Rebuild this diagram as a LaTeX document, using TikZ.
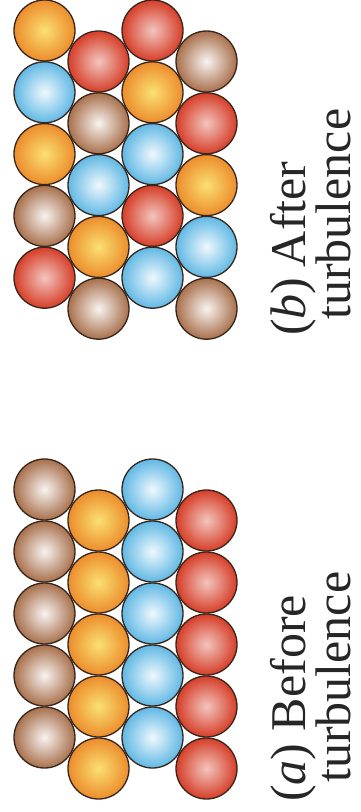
\documentclass[tikz,border=0pt]{standalone}
\usepackage{fontspec}
\setmainfont{Liberation Serif}
\usepackage{xcolor}
\usetikzlibrary{positioning}

\definecolor{ballline}{RGB}{55,38,28}
\definecolor{ballbrown}{RGB}{168,112,76}
\definecolor{ballorange}{RGB}{236,140,44}
\definecolor{ballblue}{RGB}{96,184,228}
\definecolor{ballred}{RGB}{214,62,40}

\tikzstyle{ball} = [circle, draw=ballline, line width=1.3pt, minimum size=61pt, inner sep=0pt]
\tikzstyle{brownfill} = [inner color=white!92!ballbrown, outer color=ballbrown]
\tikzstyle{orangefill} = [inner color=yellow!55!ballorange!60!white, outer color=ballorange]
\tikzstyle{bluefill} = [inner color=white!90!ballblue, outer color=ballblue]
\tikzstyle{redfill} = [inner color=white!70!ballred, outer color=ballred]

\begin{document}
\begin{tikzpicture}[x=1pt, y=1pt]
    \tikzstyle{caption} = [rotate=90, anchor=base west, inner sep=0pt, text depth=0pt, text=black!85, font=\fontsize{50}{50}\selectfont]

    \useasboundingbox (0,0) rectangle (361,-812);

    % (b) mixed layers, five balls per column
    \foreach \c/\x/\y/\cols in {1/44.5/-30.5/{orangefill,bluefill,orangefill,brownfill,redfill},
                                2/98.5/-61.5/{redfill,brownfill,bluefill,orangefill,brownfill},
                                3/152.5/-30.5/{redfill,orangefill,bluefill,redfill,bluefill},
                                4/206.5/-61.5/{brownfill,redfill,orangefill,bluefill,brownfill}}
        \foreach \f [count=\r] in \cols
            \node[ball, \f] (b-\c-\r) at (\x, {\y-61.8*(\r-1)}) {};

    % (a) one colour per column
    \foreach \c/\x/\y/\f in {1/44.5/-489.5/brownfill, 2/98.5/-520.5/orangefill,
                             3/152.5/-489.5/bluefill, 4/206.5/-520.5/redfill}
        \foreach \r in {1,...,5}
            \node[ball, \f] (a-\c-\r) at (\x, {\y-62*(\r-1)}) {};

    \node[caption] (capa1) at (305,-802) {(\textit{a}) Before};
    \node[caption] (capa2) at (350,-783) {turbulence};
    \node[caption] (capb1) at (305,-336) {(\textit{b})\kern-2pt{} After};
    \node[caption] (capb2) at (350,-320) {turbulence};
\end{tikzpicture}
\end{document}
